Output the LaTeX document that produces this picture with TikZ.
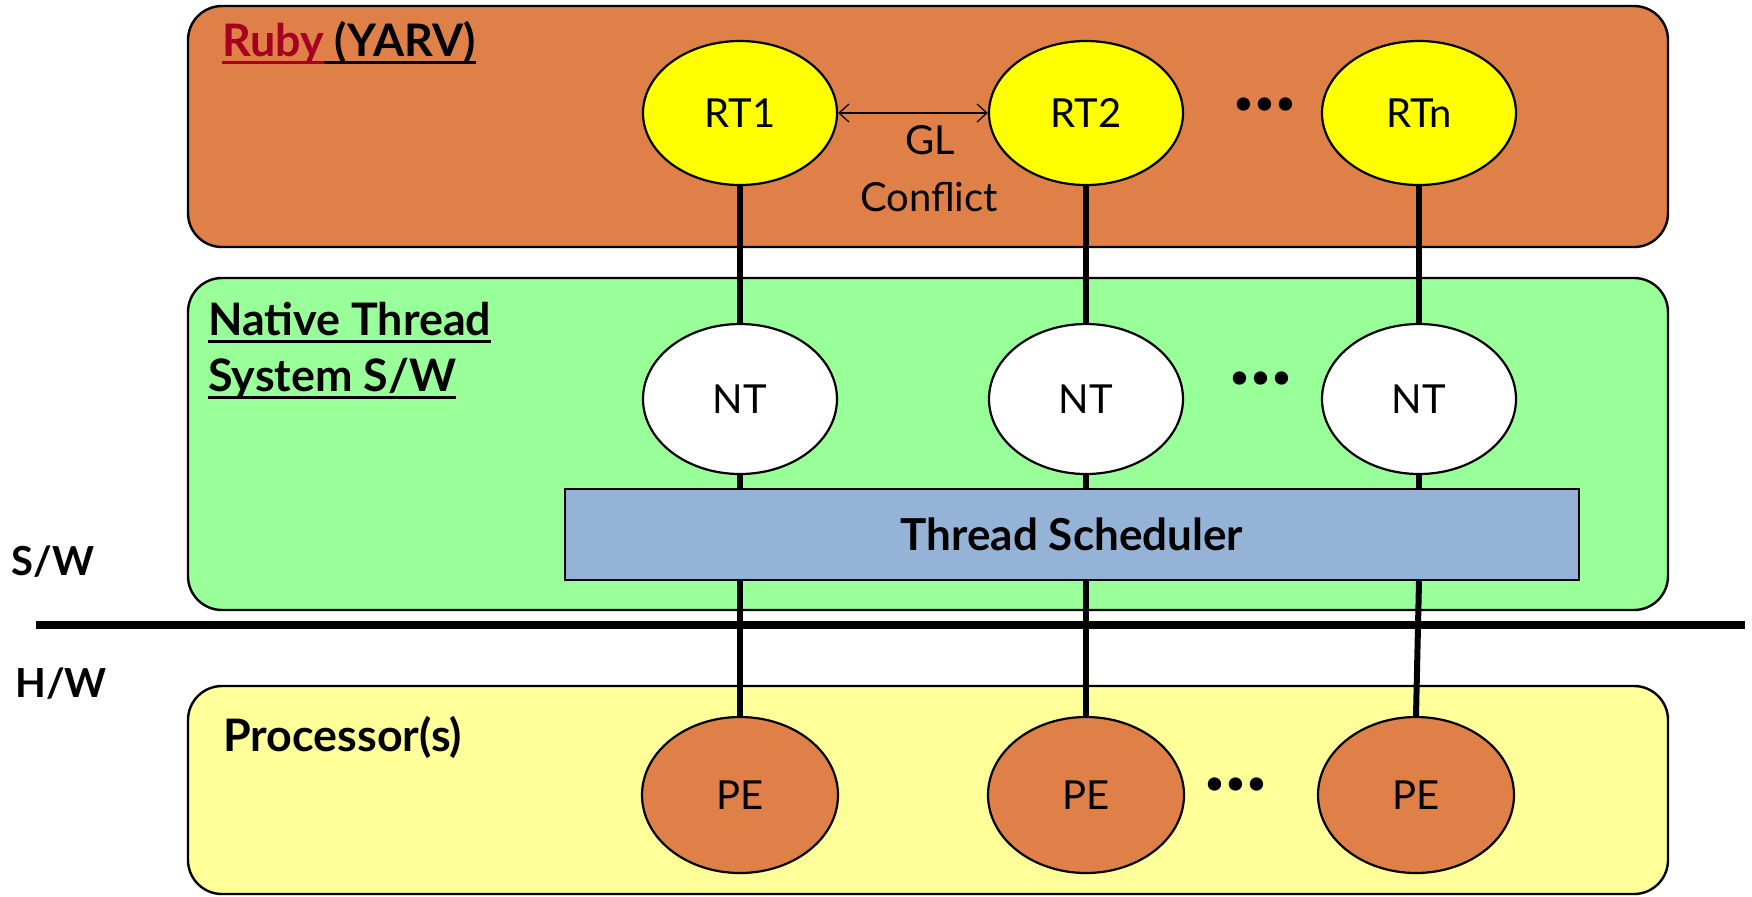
\documentclass[tikz,border=0pt]{standalone}
\usepackage{fontspec}
\setmainfont{Lato}
\usetikzlibrary{shapes.geometric,arrows.meta}

\definecolor{rubyorange}{RGB}{223,128,72}
\definecolor{rubyred}{RGB}{165,0,33}
\definecolor{ntgreen}{RGB}{153,255,153}
\definecolor{hwyellow}{RGB}{255,255,153}
\definecolor{rtyellow}{RGB}{255,255,0}
\definecolor{schedblue}{RGB}{149,179,215}

\newcommand{\lbl}{\fontsize{20}{24}\selectfont}
\newcommand{\ttl}{\fontsize{22.4}{28}\selectfont\bfseries}
% underline at a fixed depth, in the current colour
\newcommand{\undl}[1]{\setbox0\hbox{#1}\rlap{\rule[-4pt]{\wd0}{1.5pt}}\box0}

\tikzset{
  layer/.style={draw=black, line width=1.2pt, rounded corners=17pt},
  thread/.style={ellipse, draw=black, line width=1.1pt, inner sep=0pt,
    minimum width=97pt, font=\lbl},
  rtnode/.style={thread, fill=rtyellow, minimum height=72pt},
  ntnode/.style={thread, fill=white, minimum height=75pt},
  penode/.style={thread, fill=rubyorange, minimum width=98pt, minimum height=78pt},
  link/.style={line width=3pt},
  title/.style={font=\ttl, inner sep=0pt, anchor=base west, align=left},
  sidettl/.style={font=\fontsize{20}{24}\selectfont\bfseries, inner sep=0pt, anchor=base west},
  dots/.style={font=\fontsize{44}{44}\selectfont\bfseries, inner sep=0pt},
}

\begin{document}
\begin{tikzpicture}[x=0.5pt, y=-0.5pt]
\useasboundingbox (0,0) rectangle (1752,896);

% layers
\draw[layer, fill=rubyorange] (188,6) rectangle (1668,247);
\draw[layer, fill=ntgreen] (188,278) rectangle (1668,610);
\draw[layer, fill=hwyellow] (188,686) rectangle (1668,894);

% layer titles
\node[title] (rubyttl) at (222,56)
  {\textcolor{rubyred}{\undl{Ruby}}\undl{\ (YARV)}};
\node[title] (ntttl) at (208,391) {\undl{Native Thread}\\\undl{System S/W}};
\node[title] (procttl) at (223,751) {Processor(s)};

% software / hardware split
\coordinate (sepL) at (36,625);
\coordinate (sepR) at (1745,625);
\draw[line width=4pt] (sepL) -- (sepR);
\node[sidettl] (sw) at (11,575) {S/W};
\node[sidettl] (hw) at (15,697) {H/W};

% scheduler
\node[draw=black, line width=1.2pt, fill=schedblue, minimum width=507pt,
  minimum height=45.5pt, inner sep=0pt,
  font=\fontsize{22}{26}\selectfont\bfseries] (sched) at (1072,534.5) {Thread Scheduler};

% threads and processing elements
\node[rtnode] (rt1) at (740,113) {RT1};
\node[rtnode] (rt2) at (1086,113) {RT2};
\node[rtnode] (rtn) at (1419,113) {RTn};
\node[ntnode] (nt1) at (740,399) {NT};
\node[ntnode] (nt2) at (1086,399) {NT};
\node[ntnode] (ntn) at (1419,399) {NT};
\node[penode] (pe1) at (740,795) {PE};
\node[penode] (pe2) at (1086,795) {PE};
\node[penode] (pen) at (1416,795) {PE};

\node[dots] (rtdots) at (1265,104) {...};
\node[dots] (ntdots) at (1261,378) {...};
\node[dots] (pedots) at (1236,784) {...};

% connectors
\foreach \r/\n/\p in {rt1/nt1/pe1, rt2/nt2/pe2, rtn/ntn/pen}{
  \draw[link] (\r) -- (\n);
  \draw[link] (\n.south) -- (\n.south |- sched.north);
  \draw[link] (sched.south -| \n) -- (\p.north);
}

% global lock conflict
\draw[line width=0.6pt, {Straight Barb[length=5pt,width=9pt]}-{Straight Barb[length=5pt,width=9pt]}]
  (rt1.east) -- (rt2.west);
\node[font=\lbl, inner sep=0pt] (gl) at (930,140) {GL};
\node[font=\lbl, inner sep=0pt] (conf) at (929,197) {Conflict};
\end{tikzpicture}
\end{document}
